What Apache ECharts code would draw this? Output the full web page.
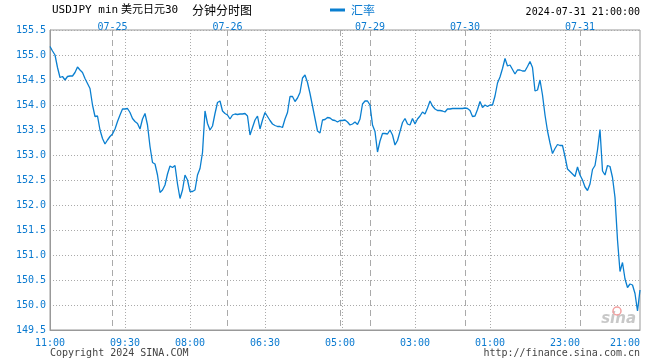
<!DOCTYPE html>
<html><head><meta charset="utf-8">
<script src="https://cdn.jsdelivr.net/npm/echarts@6/dist/echarts.min.js"></script>
<style>html,body{margin:0;padding:0;background:#fff}#c{width:660px;height:360px}</style>
</head><body><div id="c"></div>
<script>
const rate = [
155.17,155.08,155.00,154.75,154.55,154.57,154.50,154.57,154.58,154.58,
154.65,154.76,154.70,154.65,154.53,154.43,154.33,154.00,153.77,153.78,
153.50,153.33,153.22,153.30,153.37,153.42,153.52,153.67,153.80,153.92,
153.92,153.93,153.85,153.73,153.67,153.63,153.52,153.72,153.83,153.60,
153.17,152.85,152.82,152.60,152.25,152.30,152.40,152.62,152.78,152.75,
152.79,152.42,152.13,152.30,152.60,152.50,152.27,152.27,152.30,152.60,
152.73,153.05,153.88,153.63,153.50,153.58,153.83,154.05,154.08,153.88,
153.83,153.80,153.72,153.80,153.82,153.81,153.82,153.82,153.83,153.78,
153.40,153.55,153.70,153.78,153.52,153.70,153.85,153.77,153.69,153.62,
153.59,153.57,153.57,153.55,153.72,153.85,154.17,154.17,154.07,154.14,
154.25,154.54,154.60,154.45,154.23,153.98,153.73,153.48,153.44,153.70,
153.71,153.75,153.74,153.70,153.69,153.66,153.69,
153.69,153.70,153.66,153.60,153.62,153.66,153.61,153.72,154.02,154.08,
154.08,154.00,153.60,153.47,153.06,153.28,153.43,153.43,153.42,153.50,
153.40,153.20,153.29,153.47,153.65,153.73,153.62,153.60,153.73,153.62,
153.72,153.78,153.86,153.82,153.94,154.08,153.98,153.92,153.89,153.89,
153.88,153.86,153.92,153.92,153.93,153.93,153.93,153.93,153.93,153.94,
153.93,153.89,153.77,153.78,153.91,154.07,153.95,154.00,153.97,154.00,
154.00,154.18,154.44,154.56,154.73,154.93,154.78,154.80,154.71,154.62,
154.70,154.70,154.68,154.68,154.77,154.87,154.75,154.28,154.30,154.50,
154.20,153.80,153.48,153.24,153.03,153.13,153.21,153.19,153.19,152.97,
152.72,152.67,152.62,152.57,152.76,152.60,152.50,152.36,152.29,152.42,
152.71,152.79,153.10,153.51,152.68,152.60,152.79,152.77,152.55,152.15,
151.30,150.67,150.85,150.52,150.35,150.42,150.40,150.23,149.88,150.30
];
const slots = rate.map((_, i) => String(i));
const timeLabels = ['11:00','09:30','08:00','06:30','05:00','03:00','01:00','23:00','21:00'];
const timeIdx = [0,30,56,86,116,146,176,206,236];
const gridIdx = [30,56,86,117,146,176,206];
const dateLabels = ['07-25','07-26','07-29','07-30','07-31'];
const dateIdx = [25,71,128,166,212];
const dayLineIdx = [25,71,116,128,166,212];
const yMin = 149.5, yMax = 155.5, yStep = 0.5;

const BLUE = '#0a7ad0';
const MONO = '"DejaVu Sans Mono", monospace';
const chart = echarts.init(document.getElementById('c'), null, {renderer: 'canvas'});
chart.setOption({
  animation: false,
  backgroundColor: '#fff',
  grid: {left: 50, right: 20, top: 30, bottom: 30, show: true, borderColor: '#999', borderWidth: 1},
  legend: {
    left: 330, top: 4, padding: 0, icon: 'rect', itemWidth: 15, itemHeight: 3, itemGap: 5,
    textStyle: {color: BLUE, fontSize: 12, fontFamily: '"Noto Sans CJK SC"', padding: [0,0,0,1]},
    data: ['汇率']
  },
  xAxis: [{
    type: 'category', data: slots, boundaryGap: false, position: 'bottom',
    axisLine: {lineStyle: {color: '#999'}},
    axisTick: {show: false},
    axisLabel: {
      interval: (i) => timeIdx.includes(i),
      formatter: (v, i) => { const k = timeIdx.indexOf(Number(v)); return k >= 0 ? timeLabels[k] : ''; },
      color: BLUE, fontSize: 10, fontFamily: MONO, margin: 8, alignMaxLabel: 'right'
    },
    splitLine: {show: true, interval: (i) => gridIdx.includes(i), lineStyle: {color: '#aaa', type: [1, 2], width: 1}}
  }, {
    type: 'category', data: slots, boundaryGap: false, position: 'top',
    axisLine: {show: false}, axisTick: {show: false},
    axisLabel: {
      interval: (i) => dateIdx.includes(i),
      formatter: (v) => { const k = dateIdx.indexOf(Number(v)); return k >= 0 ? dateLabels[k] : ''; },
      color: BLUE, fontSize: 10, fontFamily: MONO, margin: -2
    },
    splitLine: {show: true, interval: (i) => dayLineIdx.includes(i), lineStyle: {color: '#aaa', type: [6, 4], width: 1}}
  }],
  yAxis: {
    type: 'value', min: yMin, max: yMax, interval: yStep,
    axisLine: {show: true, lineStyle: {color: '#999'}},
    axisTick: {show: false},
    axisLabel: {formatter: (v) => v.toFixed(1), color: BLUE, fontSize: 10, fontFamily: MONO, margin: 4},
    splitLine: {show: true, lineStyle: {color: '#aaa', type: [1, 2], width: 1}}
  },
  series: [{
    name: '汇率', type: 'line', data: rate, xAxisIndex: 0, showSymbol: false, symbol: 'none',
    lineStyle: {color: '#0a7fd0', width: 1.3}, itemStyle: {color: '#0a7fd0'}
  }],
  graphic: [
    {type: 'text', left: 52, top: 5, style: {text: 'USDJPY min', font: '11px ' + MONO, fill: '#000'}},
    {type: 'text', left: 121, top: 5, style: {text: '美元日元30', font: '11px "DejaVu Sans Mono", "Noto Sans CJK SC"', fill: '#000'}},
    {type: 'text', left: 192, top: 4, style: {text: '分钟分时图', font: '12px "Noto Sans CJK SC"', fill: '#000'}},
    {type: 'text', right: 20, top: 7, style: {text: '2024-07-31 21:00:00', font: '10px ' + MONO, fill: '#000'}},
    {type: 'text', left: 50, top: 348, style: {text: 'Copyright 2024 SINA.COM', font: '10px ' + MONO, fill: '#444'}},
    {type: 'text', right: 20, top: 348, style: {text: 'http://finance.sina.com.cn', font: '10px ' + MONO, fill: '#444'}},
    {type: 'text', right: 24, top: 312, style: {text: 'sina', font: 'italic bold 15px "DejaVu Sans"', fill: '#c8c8c8'}},
    {type: 'circle', shape: {cx: 617, cy: 311, r: 4}, style: {fill: 'none', stroke: '#f2a0a0', lineWidth: 1.5}}
  ]
});
</script></body></html>
